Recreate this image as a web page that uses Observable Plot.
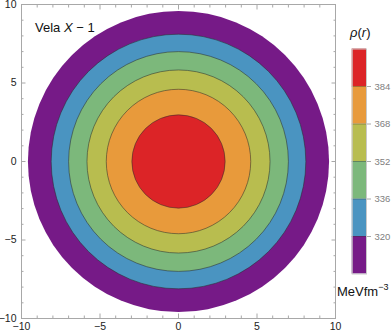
<!DOCTYPE html>
<html><head><meta charset="utf-8">
<script src="https://cdn.jsdelivr.net/npm/d3@7"></script>
<script src="https://cdn.jsdelivr.net/npm/@observablehq/plot@0.6"></script>
<style>
body{margin:0;background:#fff;}
#wrap{position:relative;width:392px;height:332px;font-family:"Liberation Sans",Arial,sans-serif;}
#wrap > svg{position:absolute;top:0;}
</style></head><body>
<div id="wrap"></div>
<script>
// contour thresholds of rho(r) in MeV fm^-3
const levels = [320, 336, 352, 368, 384];
// colour bands (lowest to highest density)
const bandLow = [304, 320, 336, 352, 368, 384];
const bandHigh = [320, 336, 352, 368, 384, 400];
const bandColors = ["#761a87", "#4a94c1", "#7cb87b", "#b8bd4f", "#e89a3b", "#dc2427"];
// outer radius (km) of each colour band
const bandOuterRadius = [9.59, 8.11, 7.0, 5.83, 4.6, 2.97];
const majorTicks = [-10, -5, 0, 5, 10];
const minorTicks = [-9, -8, -7, -6, -4, -3, -2, -1, 1, 2, 3, 4, 6, 7, 8, 9];
const starName = "Vela";
const starSuffix = "X";
const starNum = "1";

const W = 392, H = 332;
const mL = 21, mR = 57, mT = 4, mB = 14;
const minus = d => d < 0 ? "\u2212" + (-d) : String(d);

const discs = bandOuterRadius.map((r, i) => ({cx: 0, cy: 0, r, fill: bandColors[i], edge: i === 0 ? 0 : 0.75}));

const frameColor = "#a8a8a8";
const main = Plot.plot({
  width: W, height: H,
  marginLeft: mL, marginRight: mR, marginTop: mT, marginBottom: mB,
  style: {fontFamily: '"Liberation Sans", Arial, sans-serif', fontSize: "10.5px", background: "transparent", color: "#222"},
  x: {domain: [-10, 10]},
  y: {domain: [-10, 10]},
  r: {type: "linear", domain: [0, 10], range: [0, (W - mL - mR) / 2]},
  marks: [
    Plot.dot(discs, {x: "cx", y: "cy", r: "r", fill: "fill", stroke: "#2a2a2a", strokeWidth: 0.7, strokeOpacity: "edge"}),
    Plot.frame({stroke: frameColor}),
    // inward ticks
    Plot.axisX({ticks: majorTicks, anchor: "bottom", tickSize: -4.5, fill: "none", stroke: frameColor, label: null}),
    Plot.axisX({ticks: minorTicks, anchor: "bottom", tickSize: -2.5, fill: "none", stroke: frameColor, label: null}),
    Plot.axisX({ticks: majorTicks, anchor: "top", tickSize: -4.5, fill: "none", stroke: frameColor, label: null}),
    Plot.axisX({ticks: minorTicks, anchor: "top", tickSize: -2.5, fill: "none", stroke: frameColor, label: null}),
    Plot.axisY({ticks: majorTicks, anchor: "left", tickSize: -4.5, fill: "none", stroke: frameColor, label: null}),
    Plot.axisY({ticks: minorTicks, anchor: "left", tickSize: -2.5, fill: "none", stroke: frameColor, label: null}),
    Plot.axisY({ticks: majorTicks, anchor: "right", tickSize: -4.5, fill: "none", stroke: frameColor, label: null}),
    Plot.axisY({ticks: minorTicks, anchor: "right", tickSize: -2.5, fill: "none", stroke: frameColor, label: null}),
    // labels
    Plot.axisX({ticks: majorTicks, anchor: "bottom", tickSize: 0, tickPadding: 4.5, tickFormat: minus, label: null, fill: "#222"}),
    Plot.axisY({ticks: majorTicks, anchor: "left", tickSize: 0, tickPadding: 5, tickFormat: minus, label: null, fill: "#222"})
  ]
});
main.style.left = "0px";
document.getElementById("wrap").appendChild(main);

const bands = bandLow.map((lo, i) => ({lo, hi: bandHigh[i], fill: bandColors[i]}));
const LW = 52;
const legend = Plot.plot({
  width: LW, height: H,
  marginLeft: 11.7, marginRight: 26, marginTop: 48.5, marginBottom: 58.5,
  style: {fontFamily: '"Liberation Sans", Arial, sans-serif', fontSize: "9.5px", background: "transparent"},
  x: {domain: [0, 1], axis: null},
  y: {domain: [d3.min(bandLow), d3.max(bandHigh)]},
  marks: [
    Plot.rect(bands, {x1: () => 0, x2: () => 1, y1: "lo", y2: "hi", fill: "fill"}),
    Plot.ruleY(levels, {stroke: "#333", strokeOpacity: 0.55, strokeWidth: 0.7}),
    Plot.frame({stroke: "#c8c8c8"}),
    Plot.axisY({ticks: levels, anchor: "right", tickSize: 4, tickPadding: 4, stroke: "#aaa", fill: "#808080", label: null})
  ]
});
legend.style.left = "340px";
document.getElementById("wrap").appendChild(legend);

// text annotations
const ann = d3.create("svg").attr("width", W).attr("height", H)
  .style("left", "0px").style("pointer-events", "none")
  .attr("font-family", '"Liberation Sans", Arial, sans-serif');
const t1 = ann.append("text").attr("x", 35).attr("y", 31.5).attr("font-size", 13).attr("fill", "#111");
t1.append("tspan").text(starName + " ");
t1.append("tspan").attr("font-style", "italic").text(starSuffix);
t1.append("tspan").text(" \u2212 " + starNum);
const t2 = ann.append("text").attr("x", 350).attr("y", 37).attr("font-size", 13).attr("fill", "#111");
t2.append("tspan").attr("font-style", "italic").text("\u03c1");
t2.append("tspan").text("(");
t2.append("tspan").attr("font-style", "italic").text("r");
t2.append("tspan").text(")");
const t3 = ann.append("text").attr("x", 337).attr("y", 295.5).attr("font-size", 13).attr("fill", "#111");
t3.append("tspan").text("MeVfm");
t3.append("tspan").attr("font-size", 9).attr("dy", -6).text("\u22123");
document.getElementById("wrap").appendChild(ann.node());
</script>
</body></html>
